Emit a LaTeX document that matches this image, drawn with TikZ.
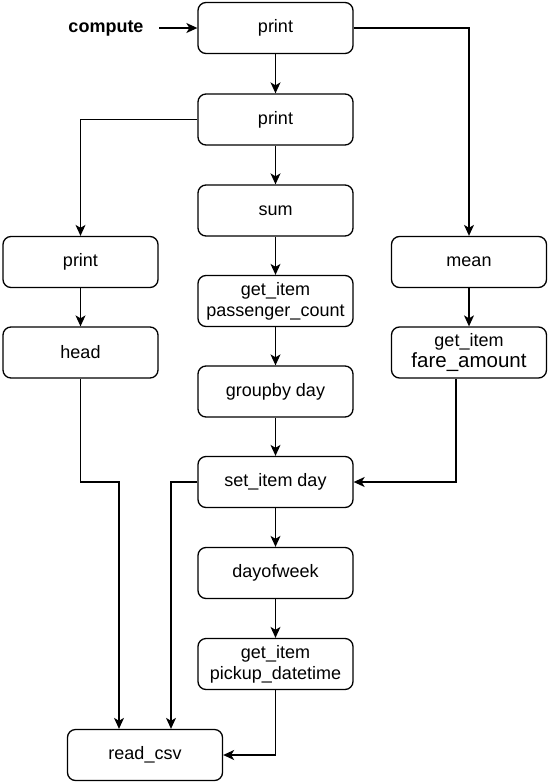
\documentclass[tikz,border=0pt]{standalone}
\usepackage{fontspec}
\setmainfont{Liberation Sans}
\usetikzlibrary{arrows.meta}
\begin{document}
\begin{tikzpicture}[x=1pt,y=-1pt,
  box/.style={draw, rounded corners=8pt, line width=1.3pt, minimum width=155pt, minimum height=51pt, align=center, font=\fontsize{18}{21}\selectfont, inner sep=0pt, fill=white},
  conn/.style={draw, line width=1.3pt, -{Stealth[length=11pt,width=10pt,inset=3pt]}},
  lbl/.style={font=\bfseries\fontsize{18}{21}\selectfont}]
\useasboundingbox (0,0) rectangle (548,782);
\node[box] (p1) at (275.5,28) {print};
\node[box] (p2) at (275.5,119.5) {print};
\node[box] (sum) at (275.5,210.5) {sum};
\node[box] (gpc) at (275.5,301) {get\_item\\passenger\_count};
\node[box] (gb) at (275.5,391.5) {groupby day};
\node[box] (si) at (275.5,482) {set\_item day};
\node[box] (dow) at (275.5,573) {dayofweek};
\node[box] (gpd) at (275.5,664) {get\_item\\pickup\_datetime};
\node[box] (rc) at (145,755) {read\_csv};
\node[box] (p3) at (80.5,262) {print};
\node[box] (hd) at (80.5,352.5) {head};
\node[box] (mn) at (469,262) {mean};
\node[box] (gfa) at (469,352.5) {get\_item\\{\fontsize{20.5}{21}\selectfont fare\_amount}};
\node[lbl] (cmp) at (106,28) {compute};
\draw[conn, shorten <=12pt] (cmp) -- (p1);
\draw[conn] (p1) -- (p2);
\draw[conn] (p2) -- (sum);
\draw[conn] (sum) -- (gpc);
\draw[conn] (gpc) -- (gb);
\draw[conn] (gb) -- (si);
\draw[conn] (si) -- (dow);
\draw[conn] (dow) -- (gpd);
\draw[conn] (p1.east) -| (mn.north);
\draw[conn] (p2.west) -| (p3.north);
\draw[conn] (p3) -- (hd);
\draw[conn] (mn) -- (gfa);
\draw[conn] (hd.south) -- (hd.south |- si.west) -| ([xshift=-26pt]rc.north);
\draw[conn] (si.west) -| ([xshift=26pt]rc.north);
\draw[conn] ([xshift=-13pt]gfa.south) |- (si.east);
\draw[conn] (gpd.south) |- (rc.east);
\end{tikzpicture}
\end{document}
